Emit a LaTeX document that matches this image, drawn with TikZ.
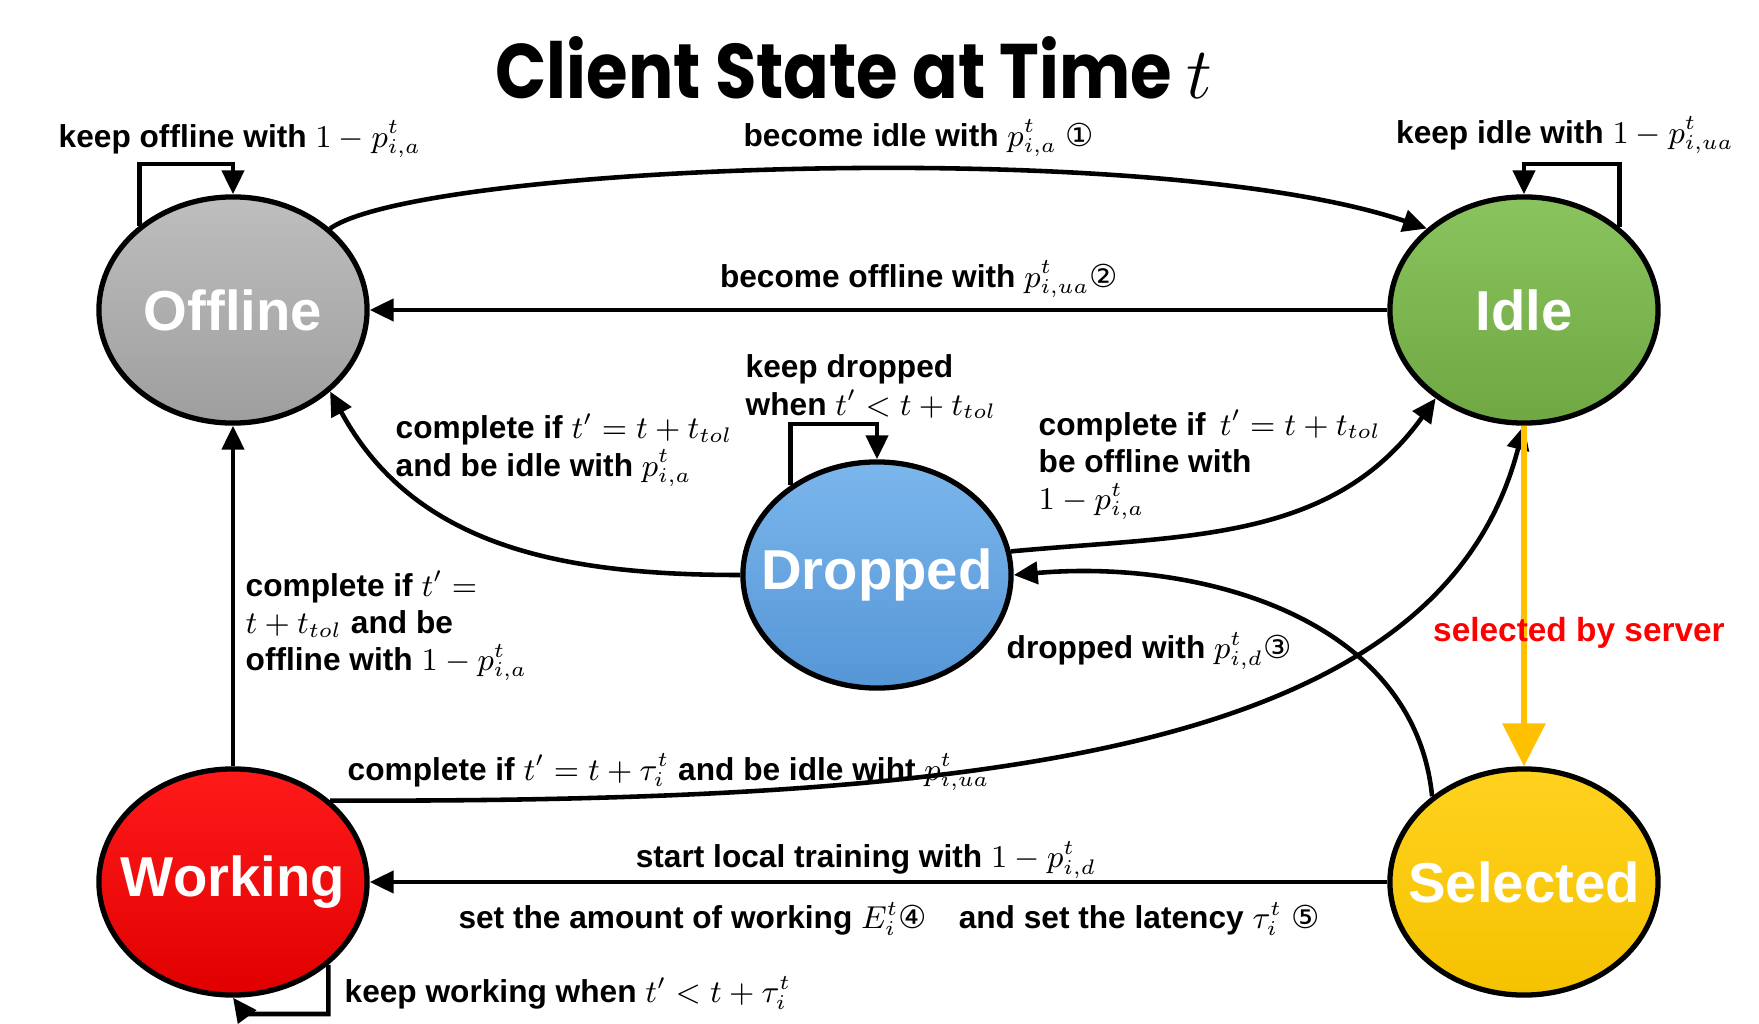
\documentclass[tikz,border=0pt]{standalone}
\usepackage[no-math]{fontspec}
\setmainfont{Liberation Sans}
\newfontfamily\titlefont{Poppins}[FakeStretch=0.87]
\newfontfamily\circfont{DejaVu Sans}
\usetikzlibrary{arrows.meta,shapes.geometric}
\newcommand\cnum[1]{{\circfont\mdseries #1}}
\definecolor{offtop}{HTML}{BEBEBE}\definecolor{offbot}{HTML}{9E9E9E}
\definecolor{idletop}{HTML}{8AC45E}\definecolor{idlebot}{HTML}{6FA843}
\definecolor{droptop}{HTML}{7BB6EC}\definecolor{dropbot}{HTML}{5596D6}
\definecolor{worktop}{HTML}{FF1A1A}\definecolor{workbot}{HTML}{E00000}
\definecolor{seltop}{HTML}{FFD21F}\definecolor{selbot}{HTML}{F5C200}
\definecolor{selorange}{HTML}{FFC000}
\begin{document}
\begin{tikzpicture}[x=0.01cm,y=-0.01cm,
  state/.style={ellipse,draw,line width=1.5pt,minimum width=2.68cm,minimum height=2.26cm,
    inner xsep=-0.3cm,inner ysep=0pt,text=white,font=\fontsize{16}{18}\selectfont\bfseries},
  lab/.style={inner sep=0pt,font=\fontsize{9}{10.6}\selectfont\bfseries},
  arr/.style={line width=1.3pt,-{Triangle[length=0.24cm,width=0.22cm]}},
  selarr/.style={draw=selorange,line width=1.8pt,-{Triangle[length=0.43cm,width=0.42cm]}}]
\useasboundingbox (0,0) rectangle (1759,1024);

\node (title) at (854,68) {\titlefont\bfseries\fontsize{22}{26}\selectfont Client State at Time $t$};

\node[state,top color=offtop,bottom color=offbot] (off) at (233,310) {Offline};
\node[state,top color=idletop,bottom color=idlebot] (idle) at (1524,310) {Idle};
\node[state,top color=droptop,bottom color=dropbot] (drop) at (877,575) {Dropped};
\node[state,top color=worktop,bottom color=workbot] (work) at (233,882) {Working};
\node[state,top color=seltop,bottom color=selbot] (sel) at (1524,882) {Selected};

\coordinate (offloop) at (233,164);
\coordinate (idleloop) at (1524,164);
\coordinate (droploop) at (877,424);
\coordinate (workloop) at (245,1014);

\draw[arr] (off.138) |- (offloop) -- (off.north);
\draw[arr] (idle.41) |- (idleloop) -- (idle.north);
\draw[arr] (drop.134) |- (droploop) -- (drop.north);
\draw[arr] (work.-41) |- (workloop) -- (work.south);

\draw[arr] (off.40) .. controls (420,165) and (1150,135) .. (idle.140);
\draw[arr] (idle.west) -- (off.east);
\draw[arr] (drop.west) .. controls (565,575) and (415,548) .. (off.-40);
\draw[arr] (drop.10) .. controls (1186,535) and (1332,543) .. (idle.-135);
\draw[arr] (sel.137) .. controls (1414,616) and (1197,559) .. (drop.east);
\draw[arr] (work.40) .. controls (1000,803) and (1440,750) .. (idle.south);
\draw[arr] (work.north) -- (off.south);
\draw[arr] (sel.west) -- (work.east);
\draw[selarr] (idle.south) -- (sel.north);

\node[lab] (koff) at (240,139) {keep offline with $1-p^t_{i,a}$};
\node[lab] (bidle) at (919,138) {become idle with $p^t_{i,a}$ \cnum{①}};
\node[lab] (kidle) at (1565,135) {keep idle with $1-p^t_{i,ua}$};
\node[lab] (boff) at (919,279) {become offline with $p^t_{i,ua}$\cnum{②}};
\node[lab,align=left,anchor=west] (kdrop) at (745,387) {keep dropped\\when $t'<t+t_{tol}$};
\node[lab,align=left,anchor=west] (cidle) at (395,450) {complete if $t'=t+t_{tol}$\\and be idle with $p^t_{i,a}$};
\node[lab,align=left,anchor=west] (coff) at (1038,465) {complete if \,$t'=t+t_{tol}$\\be offline with\\ $1-p^t_{i,a}$};
\node[lab,align=left,anchor=west] (cwoff) at (245,626) {complete if $t'=$\\$t+t_{tol}$ and be\\offline with $1-p^t_{i,a}$};
\node[lab,anchor=west] (dropw) at (1006,651) {dropped with $p^t_{i,d}$\cnum{③}};
\node[lab,text=red,font=\fontsize{9.5}{11}\selectfont\bfseries] (selby) at (1579,633) {selected by server};
\node[lab,anchor=west] (cwidle) at (347,772) {complete if $t'=t+\tau^t_i$ and be idle wiht $p^t_{i,ua}$};
\node[lab] (start) at (866,860) {start local training with $1-p^t_{i,d}$};
\node[lab] (setw) at (889,919) {set the amount of working $E^t_i$\cnum{④}\quad and set the latency $\tau^t_i$ \cnum{⑤}};
\node[lab,anchor=west] (kwork) at (344,993) {keep working when $t'<t+\tau^t_i$};
\end{tikzpicture}
\end{document}
